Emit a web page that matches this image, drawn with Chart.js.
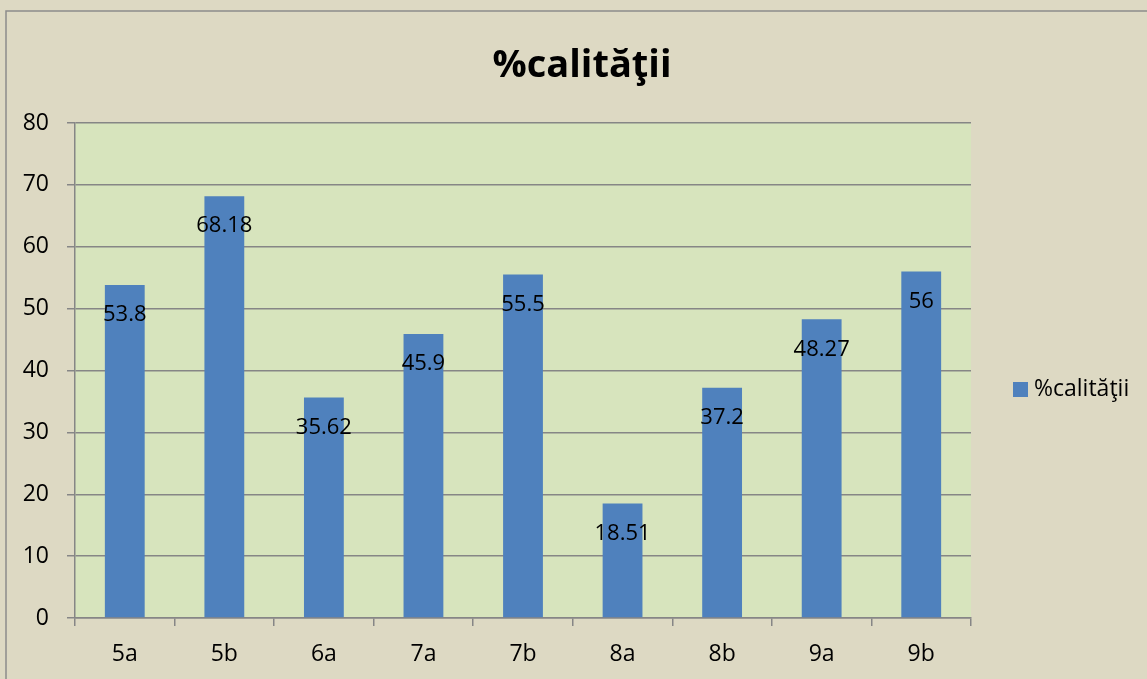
<!DOCTYPE html>
<html>
<head>
<meta charset="utf-8">
<script src="https://cdn.jsdelivr.net/npm/chart.js@4.4.1/dist/chart.umd.min.js"></script>
<style>
  html, body { margin: 0; padding: 0; background: #ddd9c3; }
  #wrap { width: 1147px; height: 679px; }
</style>
</head>
<body>
<div id="wrap"><canvas id="calitateChart" width="1147" height="679"></canvas></div>
<script>
// data
var classes = ['5a', '5b', '6a', '7a', '7b', '8a', '8b', '9a', '9b'];
var calitate = [53.8, 68.18, 35.62, 45.9, 55.5, 18.51, 37.2, 48.27, 56];
var seriesName = '%calităţii';
var yTicks = [0, 10, 20, 30, 40, 50, 60, 70, 80];

var FONT = '"Open Sans", "DejaVu Sans", sans-serif';
var gridColor = '#868686';

// background, plot area and outer frame
var backdrop = {
    id: 'backdrop',
    beforeDraw: function(chart) {
        var c = chart.ctx, a = chart.chartArea;
        c.save();
        c.fillStyle = '#ddd9c3';
        c.fillRect(0, 0, chart.width, chart.height);
        c.strokeStyle = '#8c8c8c';
        c.lineWidth = 1.5;
        c.strokeRect(6, 11, chart.width + 20, chart.height + 20);
        c.fillStyle = '#d7e4bd';
        c.fillRect(a.left, a.top, a.right - a.left, a.bottom - a.top);
        c.restore();
    }
};

// value labels inside the bars
var valueLabels = {
    id: 'valueLabels',
    afterDatasetsDraw: function(chart) {
        var c = chart.ctx;
        var meta = chart.getDatasetMeta(0);
        c.save();
        c.font = '22px ' + FONT;
        c.fillStyle = '#000';
        c.textAlign = 'center';
        c.textBaseline = 'middle';
        meta.data.forEach(function(bar, i) {
            c.fillText(String(calitate[i]), bar.x, bar.y + 30);
        });
        c.restore();
    }
};

// title and legend
var titleLegend = {
    id: 'titleLegend',
    afterDraw: function(chart) {
        var c = chart.ctx;
        c.save();
        c.fillStyle = '#000';
        c.font = 'bold 38px ' + FONT;
        c.textAlign = 'center';
        c.textBaseline = 'middle';
        c.fillText(seriesName, 582, 66);

        c.fillStyle = '#4f81bd';
        c.fillRect(1013, 382, 15, 15);
        c.fillStyle = '#000';
        c.font = '23px ' + FONT;
        c.textAlign = 'left';
        c.fillText(seriesName, 1034, 389);
        c.restore();
    }
};

var ctx = document.getElementById('calitateChart').getContext('2d');
var chart = new Chart(ctx, {
    type: 'bar',
    data: {
        labels: classes,
        datasets: [{
            label: seriesName,
            data: calitate,
            backgroundColor: '#4f81bd',
            borderWidth: 0,
            categoryPercentage: 1,
            barPercentage: 0.4
        }]
    },
    options: {
        responsive: false,
        animation: false,
        layout: { padding: { left: 0, right: 176, top: 123, bottom: 0 } },
        plugins: {
            legend: { display: false },
            tooltip: { enabled: false },
            title: { display: false }
        },
        scales: {
            x: {
                grid: {
                    display: true,
                    drawOnChartArea: false,
                    drawTicks: true,
                    tickLength: 8,
                    color: gridColor,
                    lineWidth: 1.5
                },
                border: { display: true, color: gridColor, width: 1.5 },
                ticks: {
                    color: '#000',
                    font: { family: FONT, size: 23 },
                    padding: 15
                },
                afterFit: function(scale) { scale.height = 61; }
            },
            y: {
                min: 0,
                max: 80,
                afterBuildTicks: function(scale) {
                    scale.ticks = yTicks.map(function(v) { return { value: v }; });
                },
                grid: {
                    color: gridColor,
                    lineWidth: 1.5,
                    drawTicks: true,
                    tickLength: 8
                },
                border: { display: true, color: gridColor, width: 1.5 },
                ticks: {
                    color: '#000',
                    font: { family: FONT, size: 23 },
                    padding: 18
                },
                afterFit: function(scale) { scale.width = 75; }
            }
        }
    },
    plugins: [backdrop, valueLabels, titleLegend]
});
</script>
</body>
</html>
